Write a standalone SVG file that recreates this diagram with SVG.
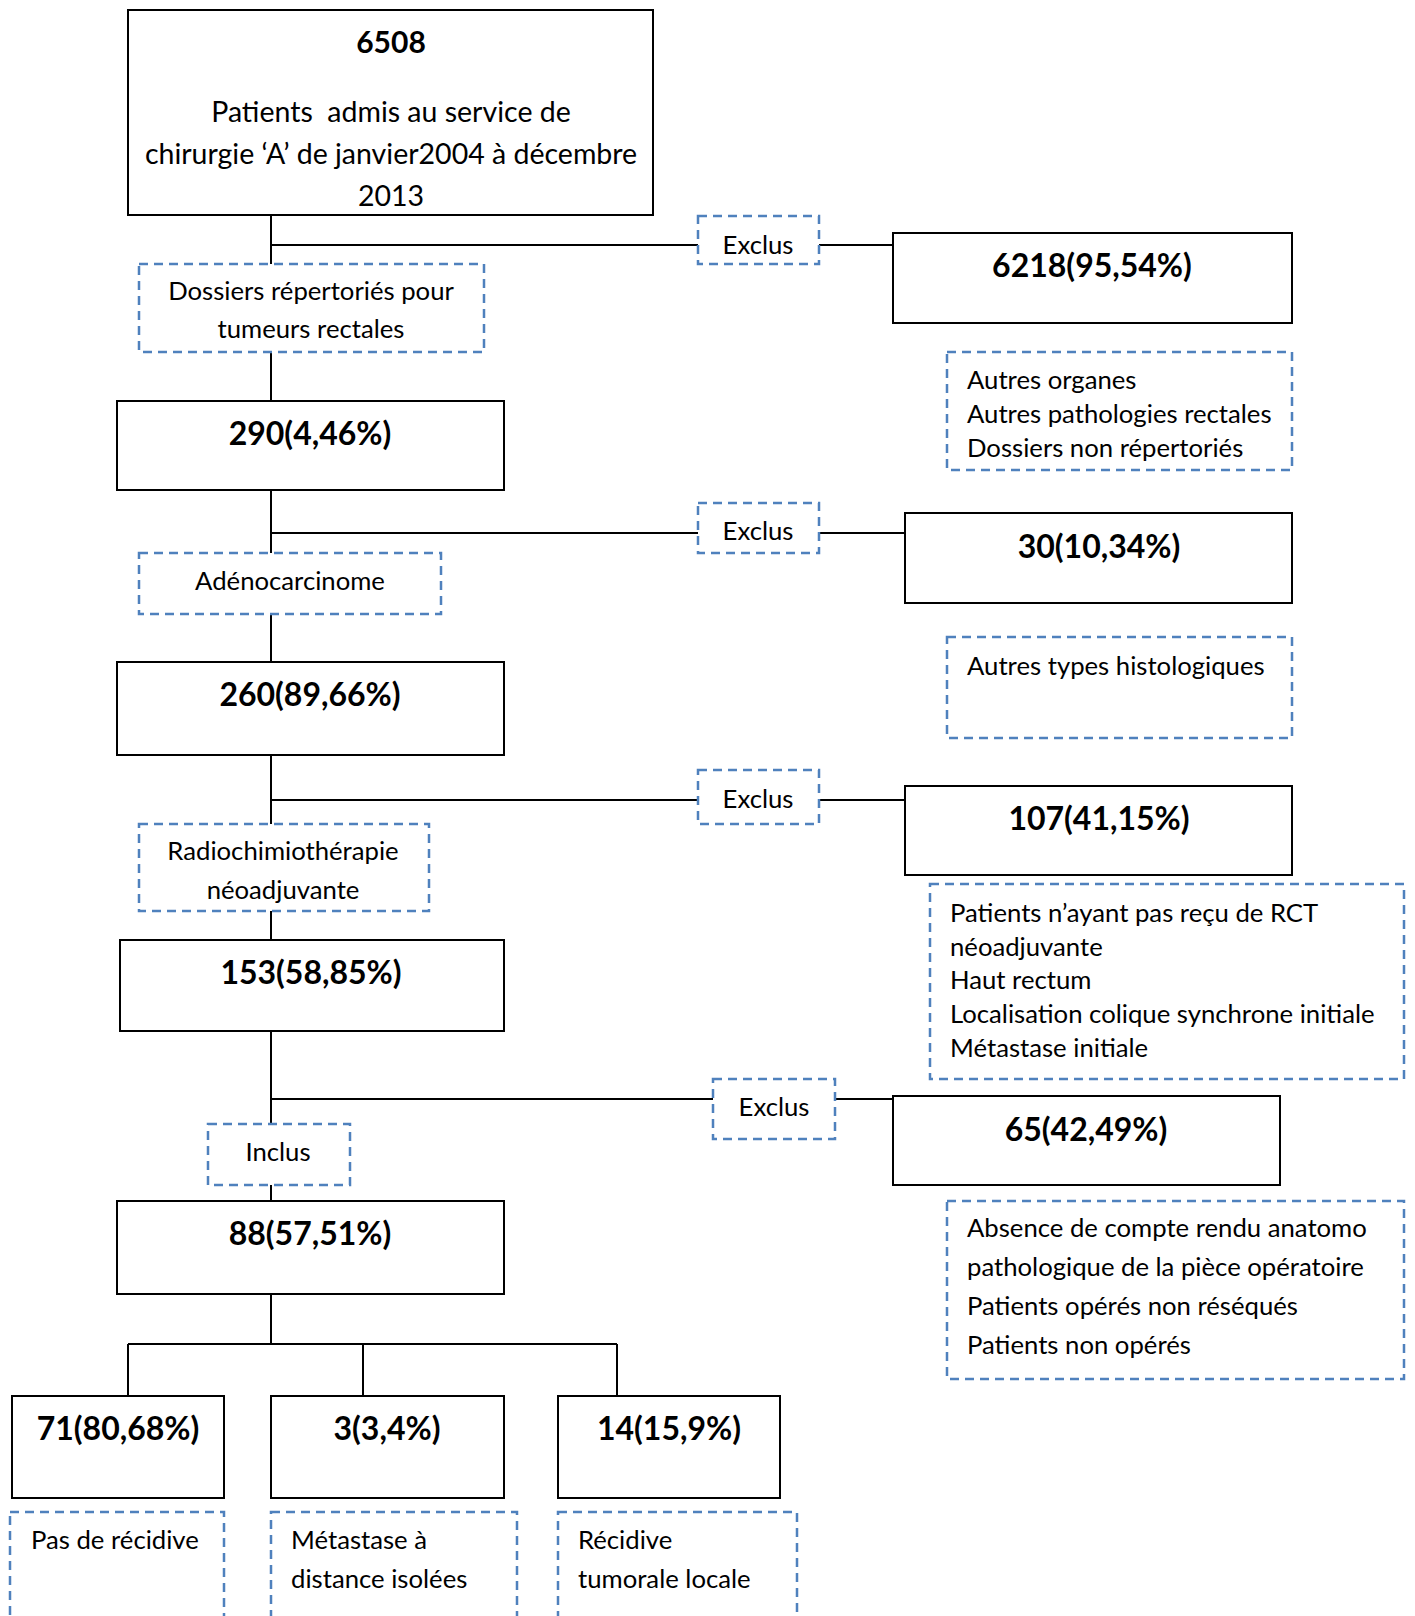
<svg xmlns="http://www.w3.org/2000/svg" width="1415" height="1616" viewBox="0 0 1415 1616">
<style>
.box{fill:#fff;stroke:#000;stroke-width:2}
.dash{fill:#fff;stroke:#4F81BD;stroke-width:2.5;stroke-dasharray:9 6}
.ln{stroke:#000;stroke-width:2;fill:none}
text{font-family:Lato,"Open Sans","Liberation Sans",sans-serif;fill:#000}
.b{font-size:32px;font-weight:bold;text-anchor:middle}
.t{font-size:25.7px}
.c{text-anchor:middle}
.big{font-size:28.5px;white-space:pre}
</style>
<rect width="1415" height="1616" fill="#fff"/>
<g id="connectors">
<path class="ln" d="M271 215V264M271 245H698M819 245H893"/>
<path class="ln" d="M271 352V401M271 490V553M271 533H698M819 533H905"/>
<path class="ln" d="M271 614V662M271 755V824M271 800H698M819 800H905"/>
<path class="ln" d="M271 911V940M271 1031V1124M271 1099H713M835 1099H893"/>
<path class="ln" d="M271 1185V1201M271 1294V1344M128 1344H617M128 1344V1396M363 1344V1396M617 1344V1396"/>
</g>
<g id="n6508"><rect class="box" x="128" y="10" width="525" height="205"/>
<text class="b" x="391" y="53" style="font-size:30px">6508</text>
<text class="big c" x="391" y="122">Patients  admis au service de</text>
<text class="big c" x="391" y="164">chirurgie ‘A’ de janvier2004 à décembre</text>
<text class="big c" x="391" y="206">2013</text></g>
<g id="dossiers"><rect class="dash" x="139" y="264" width="345" height="88"/>
<text class="t c" x="311" y="300">Dossiers répertoriés pour</text>
<text class="t c" x="311" y="338">tumeurs rectales</text></g>
<g id="exclus1"><rect class="dash" x="698" y="216" width="121" height="48"/><text class="t c" x="758" y="254">Exclus</text></g>
<g id="n6218"><rect class="box" x="893" y="233" width="399" height="90"/><text class="b" x="1092" y="277">6218(95,54%)</text></g>
<g id="autres1"><rect class="dash" x="947" y="352" width="345" height="118"/>
<text class="t" x="967" y="389">Autres organes</text>
<text class="t" x="967" y="423">Autres pathologies rectales</text>
<text class="t" x="967" y="457">Dossiers non répertoriés</text></g>
<g id="n290"><rect class="box" x="117" y="401" width="387" height="89"/><text class="b" x="310" y="445">290(4,46%)</text></g>
<g id="exclus2"><rect class="dash" x="698" y="503" width="121" height="50"/><text class="t c" x="758" y="540">Exclus</text></g>
<g id="n30"><rect class="box" x="905" y="513" width="387" height="90"/><text class="b" x="1099" y="558">30(10,34%)</text></g>
<g id="autres2"><rect class="dash" x="947" y="637" width="345" height="101"/><text class="t" x="967" y="675">Autres types histologiques</text></g>
<g id="adeno"><rect class="dash" x="139" y="553" width="302" height="61"/><text class="t c" x="290" y="590">Adénocarcinome</text></g>
<g id="n260"><rect class="box" x="117" y="662" width="387" height="93"/><text class="b" x="310" y="706">260(89,66%)</text></g>
<g id="exclus3"><rect class="dash" x="698" y="770" width="121" height="54"/><text class="t c" x="758" y="808">Exclus</text></g>
<g id="n107"><rect class="box" x="905" y="786" width="387" height="89"/><text class="b" x="1099" y="830">107(41,15%)</text></g>
<g id="patients"><rect class="dash" x="930" y="884" width="474" height="195"/>
<text class="t" x="950" y="922">Patients n’ayant pas reçu de RCT</text>
<text class="t" x="950" y="956">néoadjuvante</text>
<text class="t" x="950" y="989">Haut rectum</text>
<text class="t" x="950" y="1023">Localisation colique synchrone initiale</text>
<text class="t" x="950" y="1057">Métastase initiale</text></g>
<g id="radio"><rect class="dash" x="139" y="824" width="290" height="87"/>
<text class="t c" x="283" y="860">Radiochimiothérapie</text>
<text class="t c" x="283" y="899">néoadjuvante</text></g>
<g id="n153"><rect class="box" x="120" y="940" width="384" height="91"/><text class="b" x="311" y="984">153(58,85%)</text></g>
<g id="exclus4"><rect class="dash" x="713" y="1079" width="122" height="60"/><text class="t c" x="774" y="1116">Exclus</text></g>
<g id="n65"><rect class="box" x="893" y="1096" width="387" height="89"/><text class="b" x="1086" y="1141">65(42,49%)</text></g>
<g id="absence"><rect class="dash" x="947" y="1201" width="457" height="178"/>
<text class="t" x="967" y="1237">Absence de compte rendu anatomo</text>
<text class="t" x="967" y="1276">pathologique de la pièce opératoire</text>
<text class="t" x="967" y="1315">Patients opérés non réséqués</text>
<text class="t" x="967" y="1354">Patients non opérés</text></g>
<g id="inclus"><rect class="dash" x="208" y="1124" width="142" height="61"/><text class="t c" x="278" y="1161">Inclus</text></g>
<g id="n88"><rect class="box" x="117" y="1201" width="387" height="93"/><text class="b" x="310" y="1245">88(57,51%)</text></g>
<g id="n71"><rect class="box" x="12" y="1396" width="212" height="102"/><text class="b" x="118" y="1440">71(80,68%)</text></g>
<g id="n3"><rect class="box" x="271" y="1396" width="233" height="102"/><text class="b" x="387" y="1440">3(3,4%)</text></g>
<g id="n14"><rect class="box" x="558" y="1396" width="222" height="102"/><text class="b" x="669" y="1440">14(15,9%)</text></g>
<g id="pas"><rect class="dash" x="10" y="1512" width="214" height="130"/><text class="t" x="31" y="1549">Pas de récidive</text></g>
<g id="meta"><rect class="dash" x="271" y="1512" width="246" height="130"/>
<text class="t" x="291" y="1549">Métastase à</text>
<text class="t" x="291" y="1588">distance isolées</text></g>
<g id="recid"><rect class="dash" x="558" y="1512" width="239" height="130"/>
<text class="t" x="578" y="1549">Récidive</text>
<text class="t" x="578" y="1588">tumorale locale</text></g>
</svg>
